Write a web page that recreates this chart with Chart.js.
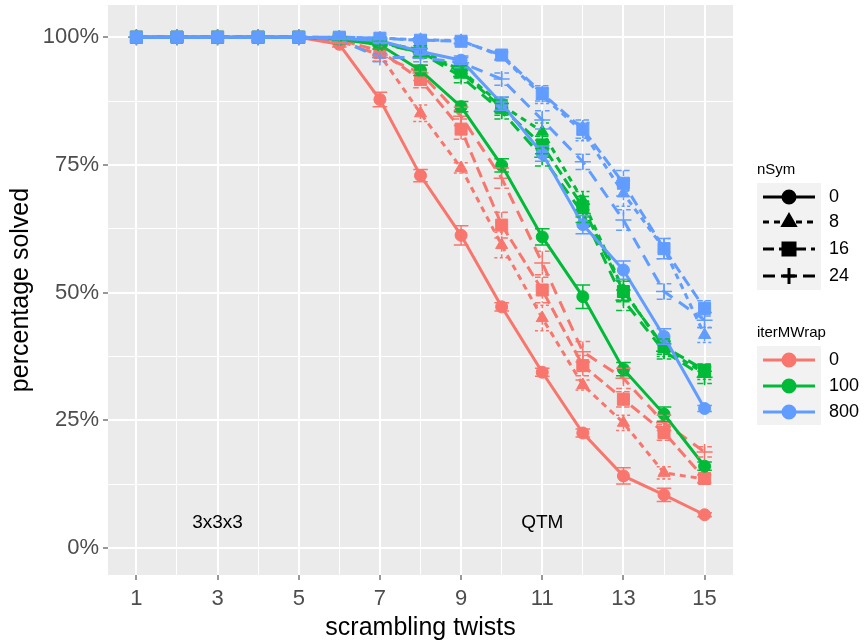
<!DOCTYPE html>
<html>
<head>
<meta charset="utf-8">
<script src="https://cdn.jsdelivr.net/npm/chart.js@4.4.0/dist/chart.umd.min.js"></script>
<style>
html, body { margin: 0; padding: 0; background: #fff; }
#wrap { width: 864px; height: 640px; }
</style>
</head>
<body>
<div id="wrap"><canvas id="myChart"></canvas></div>
<script>
// scrambling twists
var twists = [1, 2, 3, 4, 5, 6, 7, 8, 9, 10, 11, 12, 13, 14, 15];

// percentage solved, iterMWrap 0
var w0_s0  = [100, 100, 100, 100, 100, 98.6, 87.8, 72.9, 61.2, 47.2, 34.4, 22.5, 14.1, 10.4, 6.5];
var w0_s8  = [100, 100, 100, 100, 100, 99.3, 96.5, 85.1, 74.4, 59.3, 45.0, 31.9, 24.5, 14.7, 13.5];
var w0_s16 = [100, 100, 100, 100, 100, 99.5, 97.3, 91.7, 82.0, 63.2, 50.5, 35.7, 29.1, 22.6, 13.6];
var w0_s24 = [100, 100, 100, 100, 100, 99.2, 96.5, 93.0, 84.5, 72.4, 55.8, 38.4, 33.2, 24.5, 18.8];
// iterMWrap 100
var w100_s0  = [100, 100, 100, 100, 100, 99.6, 98.5, 93.5, 86.4, 74.9, 60.9, 49.2, 35.0, 26.2, 16.0];
var w100_s8  = [100, 100, 100, 100, 100, 99.8, 99.0, 97.5, 93.5, 86.7, 81.5, 68.0, 50.5, 39.0, 34.2];
var w100_s16 = [100, 100, 100, 100, 100, 99.8, 99.0, 97.0, 93.2, 86.2, 78.9, 66.8, 50.2, 39.4, 34.8];
var w100_s24 = [100, 100, 100, 100, 100, 99.8, 98.8, 97.0, 92.3, 85.5, 76.5, 65.5, 48.5, 38.5, 33.4];
// iterMWrap 800
var w800_s0  = [100, 100, 100, 100, 100, 99.8, 99.3, 97.2, 95.5, 87.0, 77.2, 63.3, 54.4, 41.4, 27.3];
var w800_s8  = [100, 100, 100, 100, 100, 100, 99.8, 99.5, 99.3, 96.3, 88.5, 81.5, 69.4, 58.6, 41.7];
var w800_s16 = [100, 100, 100, 100, 100, 100, 99.8, 99.4, 99.2, 96.5, 89.0, 82.0, 71.4, 58.6, 46.9];
var w800_s24 = [100, 100, 100, 100, 100, 99.5, 96.0, 96.0, 95.0, 91.8, 83.8, 75.6, 64.2, 50.2, 44.6];

// error bar half widths (percentage points)
var e0_s0  = [0, 0, 0, 0, 0, 0.5, 1.4, 1.2, 1.9, 0.8, 0.8, 0.8, 1.6, 1.3, 0.4];
var e0_s8  = [0, 0, 0, 0, 0, 0.5, 1.2, 1.6, 1.0, 2.5, 2.5, 1.0, 1.5, 1.2, 0.8];
var e0_s16 = [0, 0, 0, 0, 0, 0.5, 1.0, 1.6, 2.0, 2.5, 2.5, 2.0, 1.5, 1.5, 0.8];
var e0_s24 = [0, 0, 0, 0, 0, 0.5, 1.2, 1.5, 1.8, 2.0, 2.3, 2.0, 2.0, 1.5, 1.0];
var e100_s0  = [0, 0, 0, 0, 0, 0.3, 0.8, 1.0, 1.0, 1.3, 1.6, 2.3, 1.3, 1.4, 0.8];
var e100_s8  = [0, 0, 0, 0, 0, 0.3, 0.6, 0.8, 1.2, 1.5, 1.7, 1.8, 2.0, 1.5, 1.2];
var e100_s16 = [0, 0, 0, 0, 0, 0.3, 0.6, 0.8, 1.2, 1.5, 1.7, 2.0, 2.0, 1.5, 1.2];
var e100_s24 = [0, 0, 0, 0, 0, 0.3, 0.6, 0.8, 1.2, 1.5, 1.7, 1.8, 2.0, 1.5, 1.2];
var e800_s0  = [0, 0, 0, 0, 0, 0.2, 0.4, 0.6, 0.8, 1.3, 1.5, 1.8, 1.8, 1.5, 0.6];
var e800_s8  = [0, 0, 0, 0, 0, 0.2, 0.3, 0.4, 0.5, 0.8, 1.5, 1.8, 2.5, 2.0, 1.5];
var e800_s16 = [0, 0, 0, 0, 0, 0.2, 0.3, 0.4, 0.5, 0.8, 1.5, 1.8, 2.5, 2.0, 1.5];
var e800_s24 = [0, 0, 0, 0, 0, 0.3, 0.8, 0.8, 1.0, 1.2, 1.8, 1.5, 2.0, 1.5, 1.5];

var yTicks = [0, 12.5, 25, 37.5, 50, 62.5, 75, 87.5, 100];
var yLabels = ["0%", "", "25%", "", "50%", "", "75%", "", "100%"];

var iterMWrap = ["0", "100", "800"];
var nSym = ["0", "8", "16", "24"];
var colors = ["#F8766D", "#00BA38", "#619CFF"];
var dashes = [[], [6, 5], [11, 5], [12, 8]];
var shapes = ["circle", "triangle", "rect", "cross"];
var radii = [6, 7, 8.5, 8];

var series = [
  [w0_s0, w0_s8, w0_s16, w0_s24],
  [w100_s0, w100_s8, w100_s16, w100_s24],
  [w800_s0, w800_s8, w800_s16, w800_s24]
];
var errors = [
  [e0_s0, e0_s8, e0_s16, e0_s24],
  [e100_s0, e100_s8, e100_s16, e100_s24],
  [e800_s0, e800_s8, e800_s16, e800_s24]
];

var datasets = [];
for (var c = 0; c < 3; c++) {
  for (var s = 0; s < 4; s++) {
    datasets.push({
      label: "iterMWrap " + iterMWrap[c] + ", nSym " + nSym[s],
      data: twists.map(function (t, i) { return { x: t, y: series[c][s][i] }; }),
      errs: errors[c][s],
      borderColor: colors[c],
      backgroundColor: colors[c],
      borderWidth: 3,
      borderDash: dashes[s],
      pointStyle: shapes[s],
      pointRadius: radii[s],
      pointBorderWidth: s === 3 ? 1.5 : 1,
      pointHoverRadius: radii[s],
      fill: false,
      tension: 0,
      order: 3 - c
    });
  }
}

var panelBg = {
  id: "panelBg",
  beforeDraw: function (chart) {
    var a = chart.chartArea, ctx = chart.ctx;
    ctx.save();
    ctx.fillStyle = "#EBEBEB";
    ctx.fillRect(a.left, a.top, a.right - a.left, a.bottom - a.top);
    ctx.restore();
  }
};

var errorBars = {
  id: "errorBars",
  afterDatasetsDraw: function (chart) {
    var ctx = chart.ctx, xs = chart.scales.x, ys = chart.scales.y;
    var cap = xs.getPixelForValue(1.18) - xs.getPixelForValue(1);
    ctx.save();
    chart.data.datasets.forEach(function (ds) {
      ctx.strokeStyle = ds.borderColor;
      ctx.lineWidth = 1.5;
      ctx.setLineDash(ds.borderDash.map(function (d) { return d / 2; }));
      ds.data.forEach(function (p, i) {
        var e = ds.errs[i];
        if (!e) return;
        var px = xs.getPixelForValue(p.x);
        var top = ys.getPixelForValue(p.y + e), bot = ys.getPixelForValue(p.y - e);
        ctx.beginPath();
        ctx.moveTo(px, top); ctx.lineTo(px, bot);
        ctx.moveTo(px - cap, top); ctx.lineTo(px + cap, top);
        ctx.moveTo(px - cap, bot); ctx.lineTo(px + cap, bot);
        ctx.stroke();
      });
    });
    ctx.restore();
  }
};

var notes = {
  id: "notes",
  afterDraw: function (chart) {
    var ctx = chart.ctx, xs = chart.scales.x, ys = chart.scales.y;
    ctx.save();
    ctx.fillStyle = "#000";
    ctx.font = "19px 'Liberation Sans', Arial, sans-serif";
    ctx.textAlign = "center";
    ctx.textBaseline = "middle";
    ctx.fillText("3x3x3", xs.getPixelForValue(3), ys.getPixelForValue(4.9));
    ctx.fillText("QTM", xs.getPixelForValue(11), ys.getPixelForValue(4.9));

    // legends
    var lx = 757, kw = 64, tx = 829;
    function key(y, color, dash, shape, r) {
      ctx.strokeStyle = color;
      ctx.fillStyle = color;
      ctx.lineWidth = 3;
      ctx.setLineDash(dash);
      ctx.beginPath();
      ctx.moveTo(lx + 6, y); ctx.lineTo(lx + kw - 6, y);
      ctx.stroke();
      ctx.setLineDash([]);
      Chart.helpers.drawPoint(ctx, { pointStyle: shape, radius: r, borderWidth: shape === "cross" ? 1.2 : 1 }, lx + kw / 2, y);
      if (shape !== "cross") ctx.fill();
    }
    ctx.textAlign = "left";
    ctx.font = "15px 'Liberation Sans', Arial, sans-serif";
    ctx.fillStyle = "#000";
    ctx.fillText("nSym", lx, 170);
    ctx.fillText("iterMWrap", lx, 333);
    ctx.fillStyle = "#F2F2F2";
    ctx.fillRect(lx, 183, kw, 107);
    ctx.fillRect(lx, 346, kw, 79);
    var ny = [197, 222, 249, 276];
    for (var s = 0; s < 4; s++) {
      key(ny[s], "#000", dashes[s], shapes[s], radii[s]);
    }
    var iy = [360, 386, 412];
    for (var c = 0; c < 3; c++) {
      key(iy[c], colors[c], [], "circle", 6);
    }
    ctx.fillStyle = "#000";
    ctx.font = "18px 'Liberation Sans', Arial, sans-serif";
    for (s = 0; s < 4; s++) ctx.fillText(nSym[s], tx, ny[s]);
    for (c = 0; c < 3; c++) ctx.fillText(iterMWrap[c], tx, iy[c]);
    ctx.restore();
  }
};

var ctx = document.getElementById("myChart");
var myChart = new Chart(ctx, {
  type: "line",
  data: { datasets: datasets },
  plugins: [panelBg, errorBars, notes],
  options: {
    responsive: true,
    maintainAspectRatio: false,
    animation: false,
    layout: { autoPadding: false, padding: { left: 6, right: 131, top: 5, bottom: 0 } },
    plugins: {
      legend: { display: false },
      tooltip: { enabled: false }
    },
    scales: {
      x: {
        type: "linear",
        min: 0.3,
        max: 15.7,
        afterBuildTicks: function (scale) {
          scale.ticks = twists.map(function (t) { return { value: t }; });
        },
        afterFit: function (scale) {
          scale.height = 65;
          scale.paddingLeft = 0;
          scale.paddingRight = 0;
        },
        border: { display: false },
        grid: {
          color: "#FFFFFF",
          lineWidth: function (c) { return c.tick && c.tick.value % 2 === 1 ? 2 : 1; },
          tickColor: function (c) { return c.tick && c.tick.value % 2 === 1 ? "#333333" : "rgba(0,0,0,0)"; },
          tickLength: 5,
          tickWidth: 1
        },
        ticks: {
          autoSkip: false,
          maxRotation: 0,
          padding: 6,
          color: "#4D4D4D",
          font: { family: "'Liberation Sans', Arial, sans-serif", size: 22 },
          callback: function (v) { return v % 2 === 1 ? String(v) : ""; }
        },
        title: {
          display: true,
          text: "scrambling twists",
          color: "#000",
          padding: { top: 0, bottom: -3 },
          font: { family: "'Liberation Sans', Arial, sans-serif", size: 25 }
        }
      },
      y: {
        type: "linear",
        min: -5.3,
        max: 106.3,
        afterBuildTicks: function (scale) {
          scale.ticks = yTicks.map(function (t) { return { value: t }; });
        },
        afterFit: function (scale) {
          scale.width = 102;
          scale.paddingTop = 0;
          scale.paddingBottom = 0;
        },
        border: { display: false },
        grid: {
          color: "#FFFFFF",
          lineWidth: function (c) { return c.tick && c.tick.value % 25 === 0 ? 2 : 1; },
          tickColor: function (c) { return c.tick && c.tick.value % 25 === 0 ? "#333333" : "rgba(0,0,0,0)"; },
          tickLength: 5,
          tickWidth: 1
        },
        ticks: {
          autoSkip: false,
          padding: 4,
          color: "#4D4D4D",
          font: { family: "'Liberation Sans', Arial, sans-serif", size: 22 },
          callback: function (v) { return yLabels[yTicks.indexOf(v)]; }
        },
        title: {
          display: true,
          text: "percentage solved",
          color: "#000",
          padding: { top: 0, bottom: 4 },
          font: { family: "'Liberation Sans', Arial, sans-serif", size: 25 }
        }
      }
    }
  }
});
</script>
</body>
</html>
